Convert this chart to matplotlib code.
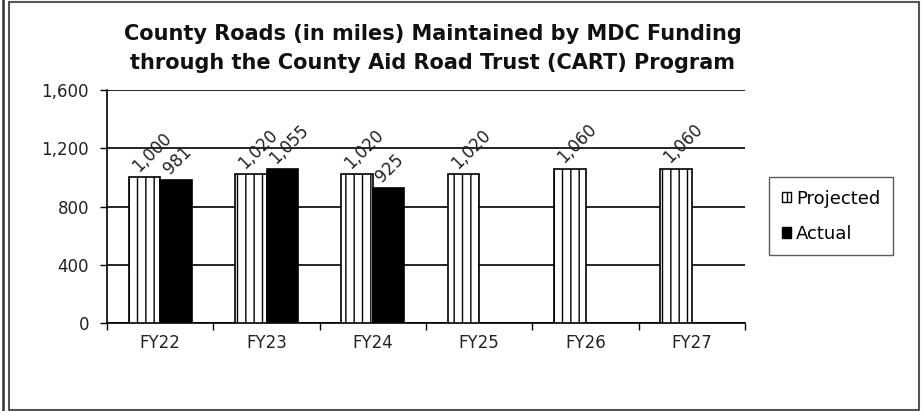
import matplotlib
matplotlib.use('Agg')
import matplotlib.pyplot as plt
import numpy as np
from matplotlib.patches import Rectangle
from matplotlib.lines import Line2D

plt.rcParams['font.family'] = ['DejaVu Sans']
plt.rcParams['hatch.linewidth'] = 1.0

categories = ['FY22', 'FY23', 'FY24', 'FY25', 'FY26', 'FY27']
projected = [1000, 1020, 1020, 1020, 1060, 1060]
actual = [981, 1055, 925, None, None, None]
yticks = [0, 400, 800, 1200, 1600]
title_lines = ['County Roads (in miles) Maintained by MDC Funding',
               'through the County Aid Road Trust (CART) Program']

fig = plt.figure(figsize=(9.23, 4.11), dpi=100)
# plot area in pixels: x 107..745, y 90..323 (from top)
W, H = 923, 411
ax = fig.add_axes([107 / W, 1 - 323 / H, (745 - 107) / W, (323 - 90) / H])

x = np.arange(len(categories))
bw = 0.295
ax.bar(x - bw / 2, projected, bw, color='white', edgecolor='black',
       hatch='||', linewidth=1.2, label='Projected', zorder=3)
act_x = [i for i, v in enumerate(actual) if v is not None]
act_v = [v for v in actual if v is not None]
ax.bar(np.array(act_x) + bw / 2, act_v, bw, color='black', edgecolor='black',
       linewidth=1.2, label='Actual', zorder=3)

for xi, v in zip(x, projected):
    ax.text(xi - bw / 2 - 0.03, v + 15, f'{v:,}', rotation=45, ha='left', va='bottom',
            fontsize=12, rotation_mode='anchor', color='#222222')
for xi, v in zip(act_x, act_v):
    ax.text(xi + bw / 2 - 0.03, v + 15, f'{v:,}', rotation=45, ha='left', va='bottom',
            fontsize=12, rotation_mode='anchor', color='#222222')

ax.set_xlim(-0.5, len(categories) - 0.5)
ax.set_ylim(0, 1600)
ax.set_yticks(yticks)
ax.set_yticklabels([f'{t:,}' for t in yticks], fontsize=12, color='#222222')
ax.yaxis.grid(True, color='black', linewidth=1.2, zorder=0)
ax.set_axisbelow(True)
ax.set_xticks(x)
ax.set_xticklabels(categories, fontsize=12, color='#222222')
ax.tick_params(axis='x', length=0, pad=8)
ax.set_xticks(np.arange(len(categories) + 1) - 0.5, minor=True)
ax.tick_params(axis='x', which='minor', length=5, width=1, direction='out')
ax.tick_params(axis='y', length=5, width=1, direction='out', pad=8)
for side in ['top', 'right']:
    ax.spines[side].set_visible(False)
ax.spines['left'].set_linewidth(1.2)
ax.spines['bottom'].set_linewidth(1.2)

fig.text(433 / W, 1 - 40 / H, title_lines[0], ha='center', va='baseline',
         fontsize=15, fontweight='bold', color='#111111')
fig.text(433 / W, 1 - 69 / H, title_lines[1], ha='center', va='baseline',
         fontsize=15, fontweight='bold', color='#111111')

handles = [Rectangle((0, 0), 1, 1, facecolor='white', edgecolor='black', hatch='||'),
           Rectangle((0, 0), 1, 1, facecolor='black', edgecolor='black')]
leg = fig.legend(handles, ['Projected', 'Actual'], loc='upper left',
                 bbox_to_anchor=(769 / W, 1 - 177 / H), borderaxespad=0,
                 fontsize=13, frameon=True, fancybox=False, edgecolor='#333333',
                 handlelength=0.5, handleheight=0.5, handletextpad=0.3,
                 borderpad=0.7, labelspacing=0.95)
leg.get_frame().set_linewidth(1.0)

# outer frames
fig.add_artist(Rectangle((9 / W, 1 / H), (919 - 9) / W, (409 - 1) / H,
                         transform=fig.transFigure, fill=False,
                         edgecolor='#555555', linewidth=1.5))
fig.add_artist(Line2D([3 / W, 3 / W], [0, 1], transform=fig.transFigure,
                      color='#333333', linewidth=1.8))

fig.savefig('out.png', dpi=100)
